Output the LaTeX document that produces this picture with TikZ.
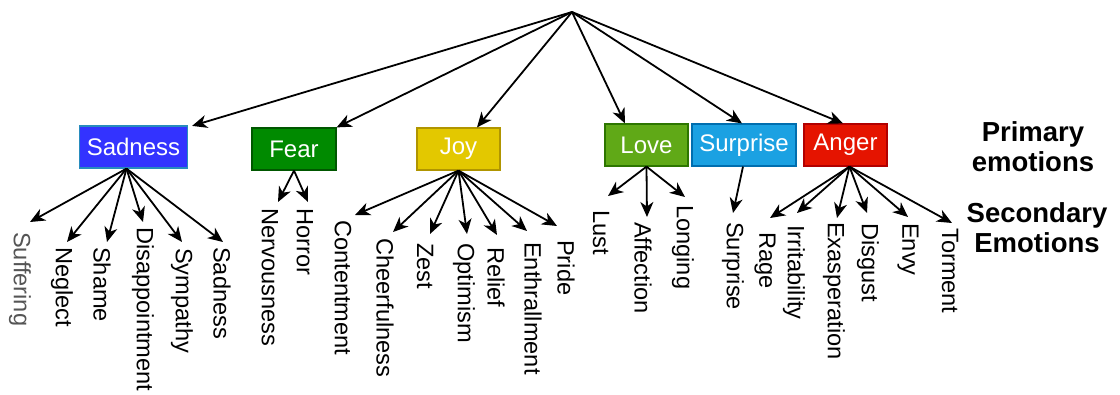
\documentclass[tikz,border=0pt]{standalone}
\usepackage{fontspec}
\setmainfont{Liberation Sans}
\usetikzlibrary{arrows.meta}

\definecolor{sadfill}{RGB}{51,51,255}
\definecolor{saddraw}{RGB}{40,140,190}
\definecolor{fearfill}{RGB}{0,138,0}
\definecolor{feardraw}{RGB}{0,87,0}
\definecolor{joyfill}{RGB}{227,200,0}
\definecolor{joydraw}{RGB}{176,149,0}
\definecolor{lovefill}{RGB}{96,169,23}
\definecolor{lovedraw}{RGB}{45,118,0}
\definecolor{surpfill}{RGB}{27,161,226}
\definecolor{surpdraw}{RGB}{0,110,175}
\definecolor{angerfill}{RGB}{229,20,0}
\definecolor{angerdraw}{RGB}{178,0,0}
\definecolor{softgray}{RGB}{85,85,85}

\tikzset{
  emobox/.style={draw, line width=1.2pt, minimum height=42pt, inner sep=0pt,
    text=white, font=\fontsize{24}{27}\selectfont},
  sublabel/.style={rotate=-90, anchor=west, inner sep=0pt,
    font=\fontsize{23.6}{26}\selectfont},
  heading/.style={align=center, font=\fontsize{27.5}{30}\selectfont\bfseries},
  arr/.style={line width=1.8pt, -{Stealth[length=15pt, width=13pt, inset=4.5pt]}},
}

% child label with the arrow tip just above it
\newcommand{\emochild}[7]{%
  \node[sublabel,#7] (#1) at (#3,#4) {#2};
  \coordinate (#1-tip) at (#5,#6);
}

\begin{document}
\begin{tikzpicture}[x=1pt, y=-1pt]
\useasboundingbox (0,0) rectangle (1120,394);

\coordinate (root) at (572,12);

% primary emotions
\node[emobox, fill=sadfill, draw=saddraw, minimum width=108pt] (sad) at (133.5,147) {Sadness};
\node[emobox, fill=fearfill, draw=feardraw, minimum width=84pt] (fear) at (294,149) {Fear};
\node[emobox, fill=joyfill, draw=joydraw, minimum width=83pt] (joy) at (458.5,149) {Joy};
\node[emobox, fill=lovefill, draw=lovedraw, minimum width=83pt] (love) at (646.5,145) {Love};
\node[emobox, fill=surpfill, draw=surpdraw, minimum width=104pt] (surp) at (744,145) {Surprise};
\node[emobox, fill=angerfill, draw=angerdraw, minimum width=83pt] (anger) at (845.5,145) {Anger};

\draw[arr] (root) -- ([xshift=4pt, yshift=-0.5pt]sad.north east);
\draw[arr] (root) -- (fear.north east);
\draw[arr] (root) -- ([xshift=18.5pt]joy.north);
\draw[arr] (root) -- ([xshift=-21.5pt]love.north);
\draw[arr] (root) -- ([xshift=-2pt]surp.north);
\draw[arr] (root) -- ([xshift=-2.5pt]anger.north);

% headings
\node[heading] (prim) at (1033,147) {Primary\\emotions};
\node[heading] (sec) at (1037,228) {Secondary\\Emotions};

% secondary emotions: Sadness
\emochild{suffering}{Suffering}{20}{232}{30}{222}{text=softgray}
\emochild{neglect}{Neglect}{62}{247}{67}{242}{}
\emochild{shame}{Shame}{102}{247}{107}{242}{}
\emochild{disap}{Disappointment}{143}{227}{143}{222}{}
\emochild{symp}{Sympathy}{182}{248}{182}{242}{}
\emochild{sadness2}{Sadness}{222}{247}{223}{242}{}
\foreach \c in {suffering,neglect,shame,disap,symp,sadness2}
  \draw[arr] ([xshift=-7pt]sad.south) -- (\c-tip);

% Fear
\emochild{nerv}{Nervousness}{270}{208}{278}{202}{}
\emochild{horror}{Horror}{305}{208}{308}{202}{}
\foreach \c in {nerv,horror}
  \draw[arr] (fear.south) -- (\c-tip);

% Joy
\emochild{content}{Contentment}{343}{220}{355}{215}{}
\emochild{cheer}{Cheerfulness}{385}{238}{393}{232}{}
\emochild{zest}{Zest}{425}{243}{430}{234}{}
\emochild{optim}{Optimism}{464}{243}{467}{234}{}
\emochild{relief}{Relief}{496}{247}{497}{235}{}
\emochild{enthr}{Enthrallment}{533}{242}{527}{231}{}
\emochild{pride}{Pride}{566}{240}{557}{226}{}
\foreach \c in {content,cheer,zest,optim,relief,enthr,pride}
  \draw[arr] (joy.south) -- (\c-tip);

% Love
\emochild{lust}{Lust}{601}{210}{608}{196}{}
\emochild{affect}{Affection}{643}{222}{647}{217}{}
\emochild{longing}{Longing}{683}{205}{685}{197}{}
\foreach \c in {lust,affect,longing}
  \draw[arr] (love.south) -- (\c-tip);

% Surprise
\emochild{surprise2}{Surprise}{733}{222}{733}{213}{}
\draw[arr] ([xshift=-1pt]surp.south) -- (surprise2-tip);

% Anger
\emochild{rage}{Rage}{765}{232}{770}{218}{}
\emochild{irrit}{Irritability}{794}{225}{797}{213}{}
\emochild{exasp}{Exasperation}{834}{222}{837}{218}{}
\emochild{disgust}{Disgust}{868}{223}{867}{213}{}
\emochild{envy}{Envy}{908}{223}{908}{217}{}
\emochild{torment}{Torment}{950}{228}{952}{223}{}
\foreach \c in {rage,irrit,exasp,disgust,envy,torment}
  \draw[arr] ([xshift=4pt]anger.south) -- (\c-tip);

\end{tikzpicture}
\end{document}
